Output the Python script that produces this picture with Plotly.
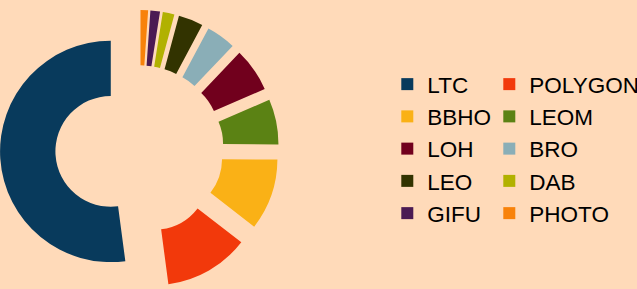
import plotly.graph_objects as go

labels = ["LTC", "POLYGON", "BBHO", "LEOM", "LOH", "BRO", "LEO", "DAB", "GIFU", "PHOTO"]
values = [52.1, 12.4, 10.4, 6.6, 6.4, 4.3, 3.6, 1.7, 1.4, 1.1]
colors = ["#083A5C", "#F2390B", "#FAB116", "#5B8214", "#71001D",
          "#8AAEB7", "#323300", "#B1B100", "#4B1A53", "#F8820A"]

bg = "#FFDAB9"

# first slice starts at 12 o'clock and runs counterclockwise
start_rotation = -360.0 * values[0] / sum(values)

fig = go.Figure(
    go.Pie(
        labels=labels,
        values=values,
        hole=0.5,
        pull=0.26,
        sort=False,
        direction="counterclockwise",
        rotation=start_rotation,
        marker=dict(colors=colors, line=dict(width=0)),
        textinfo="none",
        hoverinfo="label+percent",
    )
)

fig.update_layout(
    width=637,
    height=289,
    margin=dict(l=0, r=358, t=10, b=0, pad=0, autoexpand=False),
    paper_bgcolor=bg,
    plot_bgcolor=bg,
    font=dict(family="Liberation Sans, Arial, sans-serif", size=22.5, color="black"),
    showlegend=True,
    legend=dict(
        orientation="h",
        xref="container",
        yref="container",
        x=0.608,
        y=0.782,
        xanchor="left",
        yanchor="top",
        entrywidth=57,
        entrywidthmode="pixels",
        maxheight=1,
        bgcolor="rgba(0,0,0,0)",
        borderwidth=0,
        traceorder="normal",
    ),
)

# let long legend labels run to the page edge instead of being clipped
post = (
    "var s=document.createElement('style');"
    "s.textContent='.legend .scrollbox{clip-path:none !important;}';"
    "document.head.appendChild(s);"
)

fig.write_html("out.html", post_script=post)
